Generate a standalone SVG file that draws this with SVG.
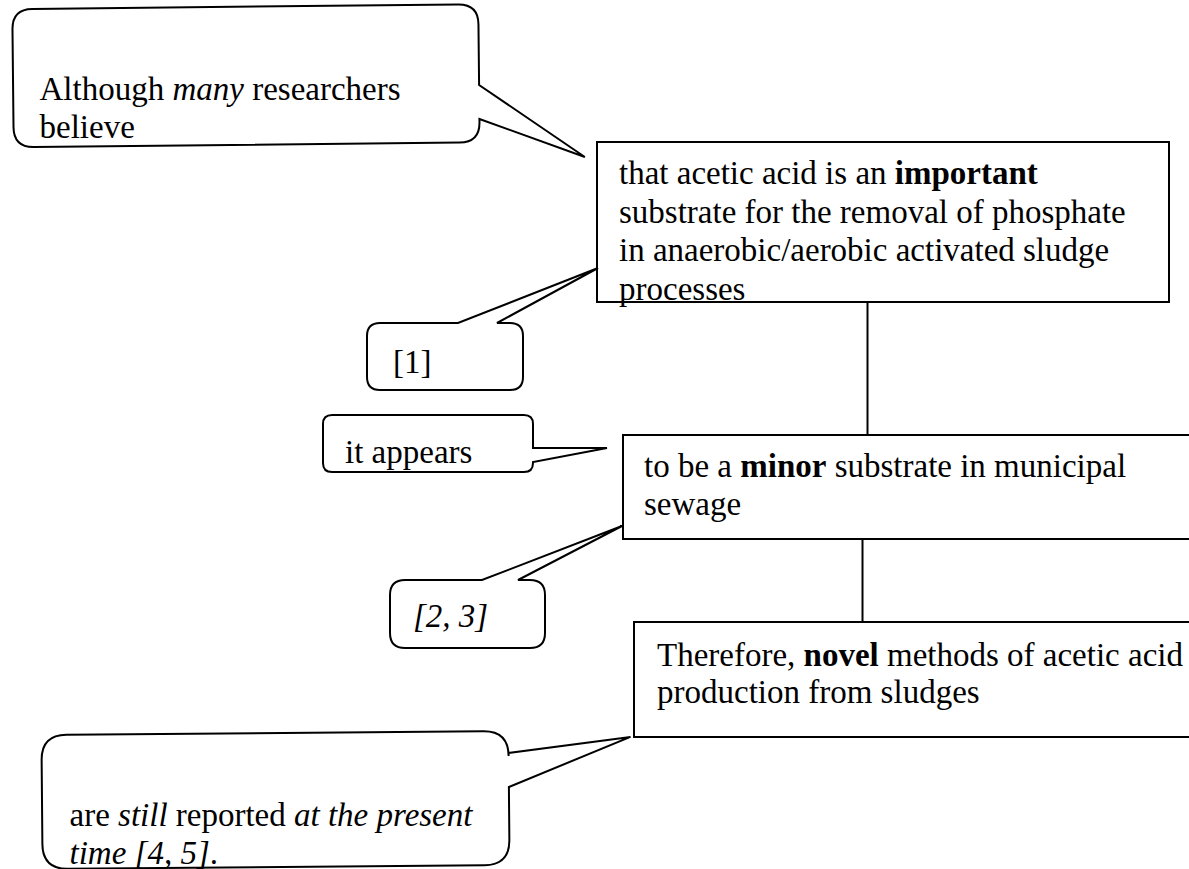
<svg xmlns="http://www.w3.org/2000/svg" width="1189" height="869" viewBox="0 0 1189 869">
  <style>
    .box { fill: #ffffff; stroke: #000000; stroke-width: 2; }
    .call { fill: #ffffff; stroke: #000000; stroke-width: 2; stroke-linejoin: miter; }
    .link { fill: none; stroke: #000000; stroke-width: 2; }
    text { font-family: "Liberation Serif", "Times New Roman", serif; font-size: 33px; fill: #000000; }
    .b { font-weight: bold; }
    .i { font-style: italic; }
  </style>
  <rect width="1189" height="869" fill="#ffffff"/>

  <!-- vertical connectors between the statement boxes -->
  <g id="connectors">
    <line class="link" x1="867.5" y1="302" x2="867.5" y2="435"/>
    <line class="link" x1="862.5" y1="539" x2="862.5" y2="622"/>
  </g>

  <!-- speech bubble: opening clause -->
  <g id="callout-although">
    <path class="call" transform="rotate(-0.6 246 77)"
          d="M 33,6.7 H 459 Q 479,6.7 479,26.7 V 87.4 L 584,160.5 L 479,121.4 V 124.8 Q 479,144.8 459,144.8 H 33 Q 13,144.8 13,124.8 V 26.7 Q 13,6.7 33,6.7 Z"/>
    <text x="39.5" y="99.5">Although <tspan class="i">many</tspan> researchers</text>
    <text x="39.5" y="137.5">believe</text>
  </g>

  <!-- statement box 1 -->
  <g id="box-important">
    <rect class="box" x="597" y="142" width="572" height="160"/>
    <text x="619" y="184">that acetic acid is an <tspan class="b">important</tspan></text>
    <text x="619" y="222.5">substrate for the removal of phosphate</text>
    <text x="619" y="261">in anaerobic/aerobic activated sludge</text>
    <text x="619" y="299.5">processes</text>
  </g>

  <!-- citation bubble [1] -->
  <g id="callout-ref1">
    <path class="call"
          d="M 380,323 H 458 L 598,268 L 497,323 H 510 Q 523,323 523,336 V 377 Q 523,390 510,390 H 380 Q 367,390 367,377 V 336 Q 367,323 380,323 Z"/>
    <text x="393" y="373">[1]</text>
  </g>

  <!-- bubble: it appears -->
  <g id="callout-appears">
    <path class="call"
          d="M 332,415 H 524 Q 533,415 533,424 V 448 L 607,448 L 533,462 V 463 Q 533,472 524,472 H 332 Q 323,472 323,463 V 424 Q 323,415 332,415 Z"/>
    <text x="345" y="463">it appears</text>
  </g>

  <!-- statement box 2 -->
  <g id="box-minor">
    <rect class="box" x="623" y="435" width="580" height="104"/>
    <text x="644" y="477">to be a <tspan class="b">minor</tspan> substrate in municipal</text>
    <text x="644" y="515">sewage</text>
  </g>

  <!-- citation bubble [2, 3] -->
  <g id="callout-ref23">
    <path class="call"
          d="M 405,580 H 482 L 622,526 L 518,580 H 530 Q 545,580 545,595 V 633 Q 545,648 530,648 H 405 Q 390,648 390,633 V 595 Q 390,580 405,580 Z"/>
    <text class="i" x="413" y="627">[2, 3]</text>
  </g>

  <!-- statement box 3 -->
  <g id="box-novel">
    <rect class="box" x="634" y="622" width="570" height="115"/>
    <text x="657" y="666">Therefore, <tspan class="b">novel</tspan> methods of acetic acid</text>
    <text x="657" y="703">production from sludges</text>
  </g>

  <!-- speech bubble: closing clause -->
  <g id="callout-still">
    <path class="call" transform="rotate(-0.5 275 800)"
          d="M 67,733 H 484 Q 509,733 509,758 V 755 L 631,740 L 509,789 V 842 Q 509,867 484,867 H 67 Q 42,867 42,842 V 758 Q 42,733 67,733 Z"/>
    <text x="69.5" y="826">are <tspan class="i">still</tspan> reported <tspan class="i">at the present</tspan></text>
    <text x="69.5" y="864"><tspan class="i">time [4, 5]</tspan>.</text>
  </g>
</svg>
